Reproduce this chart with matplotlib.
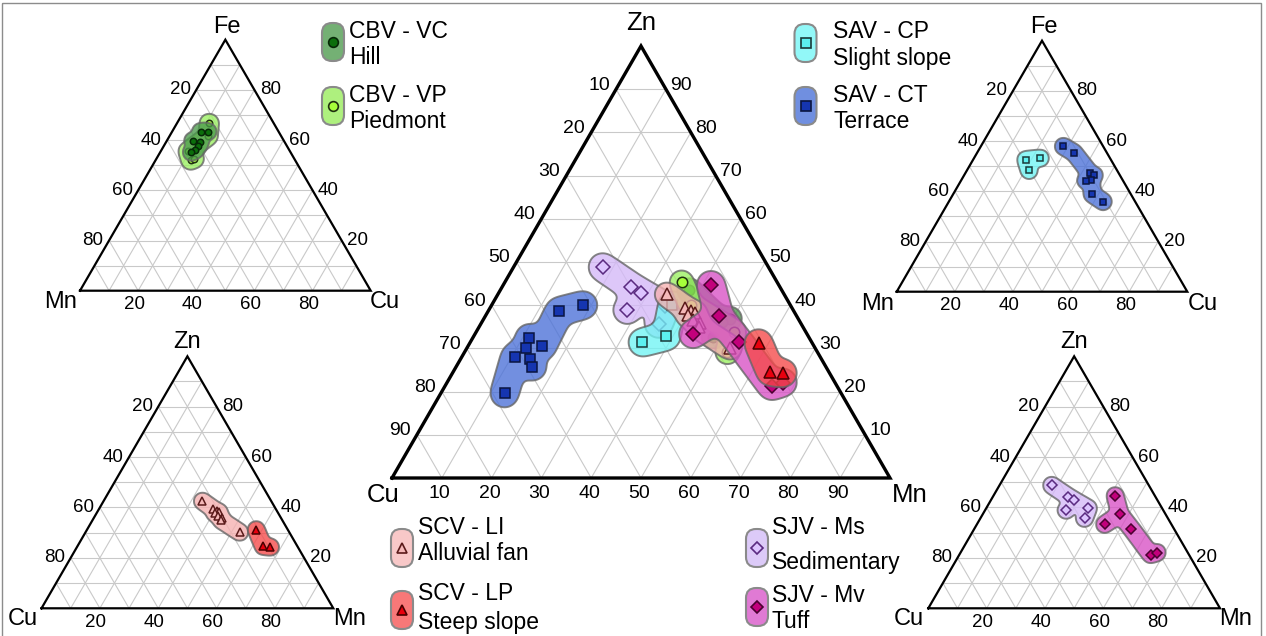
import numpy as np
import matplotlib
matplotlib.use("Agg")
import matplotlib.pyplot as plt
from matplotlib.transforms import Affine2D
from matplotlib.collections import LineCollection
from matplotlib.patches import FancyBboxPatch, Rectangle

plt.rcParams['font.family'] = ['Liberation Sans', 'DejaVu Sans']

# ------------------------------------------------------------------ data (%)
# Zn - Cu - Mn system (central diagram and lower panels)
CBV_VC_ZN = [43.5, 36.9, 36.1, 32.7]
CBV_VC_CU = [18.6, 13.7, 15.7, 19.1]
CBV_VC_MN = [37.9, 49.4, 48.2, 48.2]
CBV_VP_ZN = [45.3, 40.0, 33.8, 29.1]
CBV_VP_CU = [19.2, 20.0, 14.4, 18.1]
CBV_VP_MN = [35.5, 40.0, 51.8, 52.8]
SAV_CP_ZN = [40.0, 31.4, 32.8]
SAV_CP_CU = [23.7, 34.0, 28.5]
SAV_CP_MN = [36.3, 34.6, 38.7]
SAV_CT_ZN = [40.0, 38.6, 32.4, 30.5, 30.0, 28.0, 27.5, 25.8, 19.6]
SAV_CT_CU = [41.6, 47.1, 56.2, 54.6, 58.0, 61.3, 58.6, 58.9, 67.6]
SAV_CT_MN = [18.4, 14.3, 11.4, 14.9, 12.0, 10.7, 13.9, 15.3, 12.8]
SCV_LI_ZN = [42.5, 39.4, 38.6, 38.2, 37.7, 36.6, 35.8, 34.9, 30.2]
SCV_LI_CU = [23.6, 21.4, 20.6, 20.0, 21.8, 21.2, 20.3, 20.9, 17.0]
SCV_LI_MN = [33.9, 39.2, 40.8, 41.8, 40.5, 42.2, 43.9, 44.2, 52.8]
SCV_LP_ZN = [31.2, 24.6, 24.3]
SCV_LP_CU = [10.8, 11.7, 9.4]
SCV_LP_MN = [58.0, 63.7, 66.3]
SJV_MS_ZN = [48.8, 44.3, 42.9, 38.9, 39.7, 35.7]
SJV_MS_CU = [33.3, 29.8, 28.5, 33.3, 25.3, 28.6]
SJV_MS_MN = [17.9, 25.9, 28.6, 27.8, 35.0, 35.7]
SJV_MV_ZN = [44.7, 37.4, 33.3, 31.5, 21.3, 22.1]
SJV_MV_CU = [13.6, 15.6, 22.9, 14.6, 13.1, 10.5]
SJV_MV_MN = [41.7, 47.0, 43.8, 53.9, 65.6, 67.4]

# Fe - Mn - Cu system (upper panels)
CBV_VC_FE = [63.4, 63.4, 59.8, 59.2, 57.6, 56.0, 55.2]
CBV_VC_MN_F = [26.8, 24.3, 31.3, 29.0, 30.5, 32.3, 34.1]
CBV_VC_CU_F = [9.8, 12.3, 8.9, 11.8, 11.9, 11.7, 10.7]
CBV_VP_FE = [66.7, 61.6, 55.5, 52.0, 52.6]
CBV_VP_MN_F = [22.2, 25.1, 35.1, 35.9, 34.4]
CBV_VP_CU_F = [11.1, 13.3, 9.4, 12.1, 13.0]
SAV_CP_FE = [52.6, 53.2, 48.3]
SAV_CP_MN_F = [29.3, 24.0, 30.3]
SAV_CP_CU_F = [18.1, 22.8, 21.4]
SAV_CT_FE = [57.9, 55.4, 47.2, 46.4, 44.6, 44.3, 38.8, 35.9]
SAV_CT_MN_F = [13.7, 11.3, 9.9, 8.8, 10.7, 12.8, 13.3, 11.0]
SAV_CT_CU_F = [28.4, 33.3, 42.9, 44.8, 44.7, 42.9, 47.9, 53.1]

TICKS_MAIN = [10, 20, 30, 40, 50, 60, 70, 80, 90]
TICKS_SMALL = [20, 40, 60, 80]

LEGEND_NAMES = {
    'CBV_VC': ('CBV - VC', 'Hill'),
    'CBV_VP': ('CBV - VP', 'Piedmont'),
    'SAV_CP': ('SAV - CP', 'Slight slope'),
    'SAV_CT': ('SAV - CT', 'Terrace'),
    'SCV_LI': ('SCV - LI', 'Alluvial fan'),
    'SCV_LP': ('SCV - LP', 'Steep slope'),
    'SJV_MS': ('SJV - Ms', 'Sedimentary'),
    'SJV_MV': ('SJV - Mv', 'Tuff'),
}

# ------------------------------------------------------------------ styles
STYLE = {
    'CBV_VC': dict(hull='#4a9a4a', box='#74b074', m='o', mfc='#0b6e0b', mec='#062806'),
    'CBV_VP': dict(hull='#9af060', box='#aef07e', m='o', mfc='#a6ff3a', mec='#203010'),
    'SAV_CP': dict(hull='#70f4f4', box='#92f8f8', m='s', mfc='#5cf0f0', mec='#1a3a3a'),
    'SAV_CT': dict(hull='#4a70d8', box='#708fe0', m='s', mfc='#1535b0', mec='#0a1540'),
    'SCV_LI': dict(hull='#f5b0b0', box='#f8c8c8', m='^', mfc='#f4b8b8', mec='#5a1a1a'),
    'SCV_LP': dict(hull='#f54848', box='#f87878', m='^', mfc='#e8000e', mec='#4a0000'),
    'SJV_MS': dict(hull='#d4b8f8', box='#dccaf8', m='D', mfc='#dcc4ff', mec='#5a2a80'),
    'SJV_MV': dict(hull='#d850c4', box='#e07ad4', m='D', mfc='#c2007c', mec='#4a0030'),
}

W_FIG, H_FIG = 1266, 636
fig = plt.figure(figsize=(W_FIG / 100, H_FIG / 100), dpi=100)
ax = fig.add_axes([0, 0, 1, 1])
ax.set_xlim(0, W_FIG)
ax.set_ylim(H_FIG, 0)
ax.axis('off')

ax.add_patch(Rectangle((2, 3), 1259, 640, fill=False, ec='#8c8c8c', lw=1.0))

# geometry of each diagram: bottom-left vertex (px), width, height
GEOM = {
    'main': (392, 478, 498, 432),
    'tl': (80, 290.7, 290.7, 251),
    'tr': (896.7, 291.7, 290.6, 251),
    'bl': (41.5, 608.3, 291.8, 252),
    'br': (928.3, 608.3, 291.7, 252),
}


def tern_tr(key):
    x0, y0, w, h = GEOM[key]
    return Affine2D().scale(w, -h).translate(x0, y0)


def local(top, right):
    t = np.asarray(top, float) / 100.0
    r = np.asarray(right, float) / 100.0
    return r + t / 2.0, t


def draw_frame(key, labels, ticks, lw, tick_fs, lab_fs, toff, loff):
    tr = tern_tr(key) + ax.transData
    segs = []
    for v in np.arange(0.1, 0.99, 0.1):
        segs.append([(v / 2, v), (1 - v / 2, v)])          # const top
        segs.append([(v, 0), (v + (1 - v) / 2, 1 - v)])    # const right
        segs.append([(1 - v, 0), ((1 - v) / 2, 1 - v)])    # const left
    ax.add_collection(LineCollection(segs, colors='#c9c9c9', linewidths=0.8,
                                     transform=tr, zorder=1))
    ax.plot([0, 1, 0.5, 0], [0, 0, 1, 0], color='black', lw=lw,
            transform=tr, zorder=2, solid_joinstyle='miter')
    trp = tern_tr(key)
    (dbx, dby), (dlx, dly), (drx, dry) = toff
    for t in ticks:
        f = t / 100.0
        px, py = trp.transform((f, 0))
        ax.text(px + dbx, py + dby, str(t), ha='center', va='center',
                fontsize=tick_fs, zorder=5)
        px, py = trp.transform(((1 - f) / 2, 1 - f))
        ax.text(px + dlx, py + dly, str(t), ha='center', va='center',
                fontsize=tick_fs, zorder=5)
        px, py = trp.transform((1 - f / 2, f))
        ax.text(px + drx, py + dry, str(t), ha='center', va='center',
                fontsize=tick_fs, zorder=5)
    top, left, right = labels
    (tx, ty), (lx, ly), (rx, ry) = loff
    for (vx, vy), s, (ox, oy) in [((0.5, 1), top, (tx, ty)), ((0, 0), left, (lx, ly)),
                                  ((1, 0), right, (rx, ry))]:
        px, py = trp.transform((vx, vy))
        ax.text(px + ox, py + oy, s, ha='center', va='center', fontsize=lab_fs, zorder=5)


def mst_edges(P):
    n = len(P)
    used = [0]
    edges = []
    while len(used) < n:
        best = None
        for i in used:
            for j in range(n):
                if j in used:
                    continue
                d = np.hypot(*(P[i] - P[j]))
                if best is None or d < best[0]:
                    best = (d, i, j)
        edges.append((best[1], best[2]))
        used.append(best[2])
    return edges


def gblur(M, sigma):
    k = np.arange(-int(3 * sigma) - 1, int(3 * sigma) + 2)
    g = np.exp(-0.5 * (k / sigma) ** 2)
    g /= g.sum()
    M = np.apply_along_axis(lambda v: np.convolve(v, g, mode='same'), 0, M)
    M = np.apply_along_axis(lambda v: np.convolve(v, g, mode='same'), 1, M)
    return M


def draw_group(key, top, right, name, r, ms, zorder, smooth, alpha=0.78):
    st = STYLE[name]
    trp = tern_tr(key)
    lx, ly = local(top, right)
    P = trp.transform(np.column_stack([lx, ly]))
    edges = mst_edges(P)
    step = 0.5
    pad = r + 3 * smooth + 6
    xs = np.arange(P[:, 0].min() - pad, P[:, 0].max() + pad, step)
    ys = np.arange(P[:, 1].min() - pad, P[:, 1].max() + pad, step)
    X, Y = np.meshgrid(xs, ys)
    D = np.full(X.shape, np.inf)
    for (x, y) in P:
        D = np.minimum(D, np.hypot(X - x, Y - y))
    for i, j in edges:
        ax_, ay_ = P[i]
        bx, by = P[j]
        dx, dy = bx - ax_, by - ay_
        L2 = dx * dx + dy * dy
        t = np.clip(((X - ax_) * dx + (Y - ay_) * dy) / L2, 0, 1)
        D = np.minimum(D, np.hypot(X - (ax_ + t * dx), Y - (ay_ + t * dy)))
    F = gblur((D <= r).astype(float), smooth / step)
    ax.contourf(X, Y, F, levels=[0.45, 2], colors=[st['hull']], alpha=alpha,
                zorder=zorder, antialiased=True)
    ax.contour(X, Y, F, levels=[0.45], colors=['#666666'], linewidths=1.4,
               alpha=0.8, zorder=zorder + 0.1)
    ax.plot(lx, ly, ls='none', marker=st['m'], ms=ms, mfc=st['mfc'], mec=st['mec'],
            mew=1.1, transform=trp + ax.transData, zorder=zorder + 0.2)


def legend_entry(name, cx, cy, tx, ty1, ty2, fs=16.5):
    st = STYLE[name]
    w, h = 22, 38
    ax.add_patch(FancyBboxPatch((cx - w / 2 + 5, cy - h / 2 + 5), w - 10, h - 10,
                                boxstyle='round,pad=5,rounding_size=10',
                                fc=st['box'], ec='#8a8a8a', lw=1.5, zorder=3))
    ax.plot([cx], [cy], ls='none', marker=st['m'], ms=7 if st['m'] != 'D' else 6.5,
            mfc=st['mfc'], mec=st['mec'], mew=1.2, zorder=4)
    l1, l2 = LEGEND_NAMES[name]
    ax.text(tx, ty1, l1, ha='left', va='center', fontsize=fs, zorder=5)
    ax.text(tx, ty2, l2, ha='left', va='center', fontsize=fs, zorder=5)


# ------------------------------------------------------------------ frames
small_toff = ((-4, 14), (-16, 0), (16, 0))
draw_frame('main', ('Zn', 'Cu', 'Mn'), TICKS_MAIN, 2.4, 14, 18.5,
           ((-2, 15), (-17, -4), (15, -4)), ((0, -23), (-9, 17), (20, 17)))
draw_frame('tl', ('Fe', 'Mn', 'Cu'), TICKS_SMALL, 1.6, 13.5, 17, small_toff,
           ((2, -13), (-19, 11), (14, 11)))
draw_frame('tr', ('Fe', 'Mn', 'Cu'), TICKS_SMALL, 1.6, 13.5, 17, small_toff,
           ((2, -14), (-19, 12), (16, 12)))
draw_frame('bl', ('Zn', 'Cu', 'Mn'), TICKS_SMALL, 1.6, 13.5, 17, small_toff,
           ((0, -14), (-19, 11), (16, 11)))
draw_frame('br', ('Zn', 'Cu', 'Mn'), TICKS_SMALL, 1.6, 13.5, 17, small_toff,
           ((0, -14), (-19, 11), (16, 11)))

# ------------------------------------------------------------------ central groups
R_MAIN, MS_MAIN, SM_MAIN = 14, 7.5, 4.0
draw_group('main', SAV_CT_ZN, SAV_CT_MN, 'SAV_CT', R_MAIN, MS_MAIN, 10, SM_MAIN)
draw_group('main', SJV_MS_ZN, SJV_MS_MN, 'SJV_MS', R_MAIN, MS_MAIN - 0.5, 11, SM_MAIN)
draw_group('main', SAV_CP_ZN, SAV_CP_MN, 'SAV_CP', R_MAIN, MS_MAIN, 12, SM_MAIN)
draw_group('main', CBV_VC_ZN, CBV_VC_MN, 'CBV_VC', 12, MS_MAIN, 13, SM_MAIN)
draw_group('main', CBV_VP_ZN, CBV_VP_MN, 'CBV_VP', 12, MS_MAIN, 14, SM_MAIN)
draw_group('main', SCV_LI_ZN, SCV_LI_MN, 'SCV_LI', 12, MS_MAIN + 0.5, 15, SM_MAIN)
draw_group('main', SJV_MV_ZN, SJV_MV_MN, 'SJV_MV', R_MAIN, MS_MAIN - 0.5, 16, SM_MAIN)
draw_group('main', SCV_LP_ZN, SCV_LP_MN, 'SCV_LP', R_MAIN, MS_MAIN + 0.5, 17, SM_MAIN)

# ------------------------------------------------------------------ small panels
R_S, MS_S, SM_S = 8.5, 4.6, 2.0
draw_group('tl', CBV_VP_FE, CBV_VP_CU_F, 'CBV_VP', R_S + 1, MS_S, 10, SM_S)
draw_group('tl', CBV_VC_FE, CBV_VC_CU_F, 'CBV_VC', R_S, MS_S, 11, SM_S)
draw_group('tr', SAV_CP_FE, SAV_CP_CU_F, 'SAV_CP', R_S, MS_S, 10, SM_S)
draw_group('tr', SAV_CT_FE, SAV_CT_CU_F, 'SAV_CT', R_S, MS_S, 11, SM_S)
draw_group('bl', SCV_LI_ZN, SCV_LI_MN, 'SCV_LI', R_S, MS_S + 0.6, 10, SM_S)
draw_group('bl', SCV_LP_ZN, SCV_LP_MN, 'SCV_LP', R_S, MS_S + 0.6, 11, SM_S)
draw_group('br', SJV_MS_ZN, SJV_MS_MN, 'SJV_MS', R_S, MS_S, 10, SM_S)
draw_group('br', SJV_MV_ZN, SJV_MV_MN, 'SJV_MV', R_S, MS_S, 11, SM_S)

# ------------------------------------------------------------------ legends
legend_entry('CBV_VC', 333, 42, 349, 32, 58)
legend_entry('CBV_VP', 333, 106, 349, 96, 122)
legend_entry('SAV_CP', 805.5, 43, 833, 31, 58)
legend_entry('SAV_CT', 805.5, 106, 833, 95, 122)
legend_entry('SCV_LI', 402, 548, 418, 528, 554)
legend_entry('SCV_LP', 402, 610, 418, 594, 622)
legend_entry('SJV_MS', 757, 548, 772, 528, 562)
legend_entry('SJV_MV', 757, 607, 772, 596, 622)

fig.savefig('out.png', dpi=100)
